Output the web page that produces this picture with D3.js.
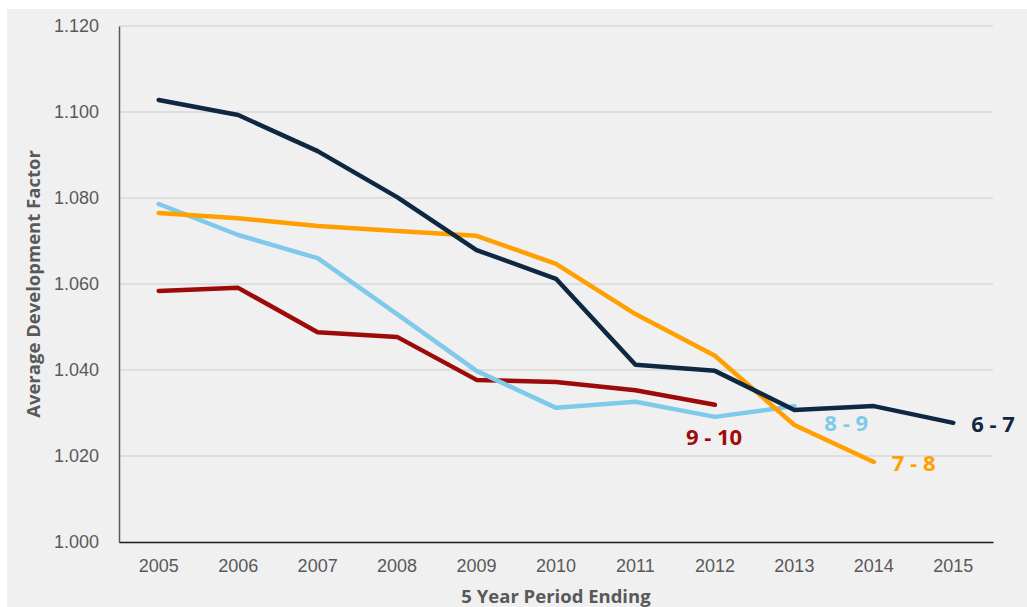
<!DOCTYPE html>
<html>
<head>
<meta charset="utf-8">
<script src="https://cdn.jsdelivr.net/npm/d3@7"></script>
<style>
  body { margin: 0; background: #fff; }
  svg { display: block; font-family: "Open Sans", "Liberation Sans", sans-serif; }
</style>
</head>
<body>
<svg id="chart" width="1027" height="607"></svg>
<script>
// Chart data
const years = ["2005", "2006", "2007", "2008", "2009", "2010", "2011", "2012", "2013", "2014", "2015"];
const yTicks = [1.000, 1.020, 1.040, 1.060, 1.080, 1.100, 1.120];

const s67 = [1.1028, 1.0993, 1.0909, 1.0802, 1.0679, 1.0612, 1.0412, 1.0398, 1.0307, 1.0316, 1.0277];
const s78 = [1.0765, 1.0753, 1.0735, 1.0723, 1.0712, 1.0647, 1.0530, 1.0433, 1.0272, 1.0186];
const s89 = [1.0786, 1.0714, 1.0660, 1.0530, 1.0398, 1.0312, 1.0326, 1.0291, 1.0316];
const s910 = [1.0584, 1.0591, 1.0488, 1.0477, 1.0377, 1.0372, 1.0353, 1.0319];

const seriesNames = ["9 - 10", "8 - 9", "7 - 8", "6 - 7"];
const seriesValues = [s910, s89, s78, s67];
const seriesColors = ["#9c0a0a", "#7fc9ea", "#ff9f00", "#0e2841"];

const svg = d3.select("#chart");
const W = 1027, H = 607;

// gray panel
svg.append("rect").attr("x", 7).attr("y", 9).attr("width", W - 7).attr("height", H - 9)
  .attr("fill", "#f0f0f0");

const margin = { left: 119, right: 34, top: 26, bottom: 65 };

const x = d3.scaleBand().domain(years)
  .range([margin.left, W - margin.right]);
const y = d3.scaleLinear().domain([1.0, 1.12])
  .range([H - margin.bottom, margin.top]);

// gridlines
svg.append("g")
  .selectAll("line")
  .data(yTicks.slice(1))
  .join("line")
  .attr("x1", margin.left).attr("x2", W - margin.right)
  .attr("y1", d => y(d)).attr("y2", d => y(d))
  .attr("stroke", "#d9d9d9").attr("stroke-width", 1.5);

// y axis
const yAxis = svg.append("g")
  .attr("transform", `translate(${margin.left},0)`)
  .call(d3.axisLeft(y).tickValues(yTicks).tickFormat(d3.format(".3f")).tickSize(0).tickPadding(20));
yAxis.select(".domain").attr("stroke", "#595959").attr("stroke-width", 1.5);
yAxis.selectAll("text").attr("fill", "#595959").style("font-size", "18px");

// x axis
const xAxis = svg.append("g")
  .attr("transform", `translate(0,${H - margin.bottom})`)
  .call(d3.axisBottom(x).tickSize(0).tickPadding(17));
xAxis.select(".domain").attr("stroke", "#1a1a1a").attr("stroke-width", 1.5);
xAxis.selectAll("text").attr("fill", "#595959").style("font-size", "18px");

// axis titles
svg.append("text")
  .attr("x", (margin.left + W - margin.right) / 2).attr("y", 603)
  .attr("text-anchor", "middle")
  .attr("fill", "#595959").style("font-size", "18.5px").style("font-weight", "bold")
  .text("5 Year Period Ending");

svg.append("text")
  .attr("transform", `translate(40,${(margin.top + H - margin.bottom) / 2}) rotate(-90)`)
  .attr("text-anchor", "middle")
  .attr("fill", "#595959").style("font-size", "18.5px").style("font-weight", "bold")
  .text("Average Development Factor");

// lines
const line = d3.line()
  .x((d, i) => x(years[i]) + x.bandwidth() / 2)
  .y(d => y(d));

seriesValues.forEach((vals, k) => {
  svg.append("path")
    .datum(vals)
    .attr("fill", "none")
    .attr("stroke", seriesColors[k])
    .attr("stroke-width", 4.5)
    .attr("stroke-linecap", "round")
    .attr("stroke-linejoin", "round")
    .attr("d", line);
});

// series labels, placed near each line's end
const labelOffsets = [[-29, 40], [30, 25], [18, 9], [18, 9]];
seriesValues.forEach((vals, k) => {
  const last = vals.length - 1;
  svg.append("text")
    .attr("x", x(years[last]) + x.bandwidth() / 2 + labelOffsets[k][0])
    .attr("y", y(vals[last]) + labelOffsets[k][1])
    .attr("fill", seriesColors[k])
    .style("font-size", "22px").style("font-weight", "bold")
    .text(seriesNames[k]);
});
</script>
</body>
</html>
